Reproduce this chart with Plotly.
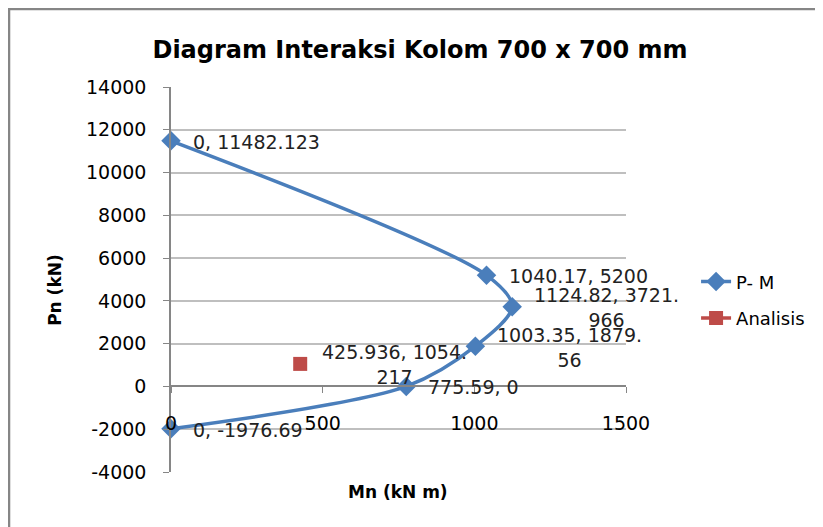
import plotly.graph_objects as go

# P-M interaction curve (Mn in kN m, Pn in kN)
pm_mn = [0, 1040.17, 1124.82, 1003.35, 775.59, 0]
pm_pn = [11482.123, 5200, 3721.966, 1879.56, 0, -1976.69]
pm_labels = ["0, 11482.123", "1040.17, 5200", "1124.82, 3721.<br>966",
             "1003.35, 1879.<br>56", "775.59, 0", "0, -1976.69"]

# analysed load point
an_mn = [425.936]
an_pn = [1054.217]
an_labels = ["425.936, 1054.<br>217"]

x_ticks = [0, 500, 1000, 1500]
y_ticks = [-4000, -2000, 0, 2000, 4000, 6000, 8000, 10000, 12000, 14000]

BLUE = "#4a7ebb"
RED = "#be4b48"
FONT = "DejaVu Sans"

fig = go.Figure()
fig.add_trace(go.Scatter(x=pm_mn, y=pm_pn, mode="lines+markers", name="P- M", legendgroup="pm",
                         line=dict(color=BLUE, width=3.5, shape="spline", smoothing=0.85),
                         marker=dict(symbol="diamond", size=15, color=BLUE),
                         cliponaxis=False))
# lines+markers so the legend shows a line like excel does
fig.add_trace(go.Scatter(x=an_mn, y=an_pn, mode="lines+markers", name="Analisis", legendgroup="an",
                         line=dict(color=RED, width=3.5),
                         marker=dict(symbol="square", size=14, color=RED),
                         cliponaxis=False))

annos = []
for mn, pn, txt in list(zip(pm_mn, pm_pn, pm_labels)) + list(zip(an_mn, an_pn, an_labels)):
    annos.append(dict(x=mn, y=pn, xref="x", yref="y", text=txt, showarrow=False,
                      xanchor="left", yanchor="middle", align="center", xshift=20, yshift=-1,
                      font=dict(family=FONT, size=19, color="#222")))

annos.append(dict(text="<b>Pn (kN)</b>", x=-0.255, y=0.473, xref="paper", yref="paper",
                  xanchor="center", yanchor="middle",
                  showarrow=False, textangle=-90, font=dict(family=FONT, size=17, color="#000")))
annos.append(dict(text="<b>Mn (kN m)</b>", x=0.499, y=-0.052, xref="paper", yref="paper",
                  xanchor="center", yanchor="middle",
                  showarrow=False, font=dict(family=FONT, size=17, color="#000")))

# page has an 8px body margin, so the figure is 8px smaller than the window
fig.update_layout(
    width=815, height=519,
    margin=dict(l=163, r=197, t=79, b=55),
    paper_bgcolor="white", plot_bgcolor="white",
    font=dict(family=FONT, size=19, color="#000"),
    title=dict(text="<b>Diagram Interaksi Kolom 700 x 700 mm</b>", x=0.5055, xanchor="center",
               y=0.92, yanchor="middle", font=dict(family=FONT, size=24, color="#000")),
    xaxis=dict(range=[0, 1500], tickvals=x_ticks, ticktext=[str(v) for v in x_ticks],
               showgrid=False, zeroline=False,
               showline=True, linecolor="#868686", linewidth=1.5,
               ticks="outside", ticklen=6, tickcolor="#868686",
               anchor="free", position=4000 / 18000, ticklabelstandoff=14),
    yaxis=dict(range=[-4000, 14000], tickvals=y_ticks, ticktext=[str(v) for v in y_ticks],
               showgrid=True, gridcolor="#bfbfbf",
               gridwidth=1.5, zeroline=False, showline=True, linecolor="#868686", linewidth=1.5,
               ticks="outside", ticklen=6, tickcolor="#868686", ticklabelstandoff=13),
    legend=dict(x=1.154, y=0.447, xanchor="left", yanchor="middle",
                font=dict(family=FONT, size=18, color="#000"), tracegroupgap=10),
    annotations=annos,
    shapes=[dict(type="rect", xref="paper", yref="paper", x0=-0.356, x1=2.5, y0=-0.5, y1=1.2026,
                 line=dict(color="#868686", width=2.5), layer="below")],
)

fig.write_html("out.html")
